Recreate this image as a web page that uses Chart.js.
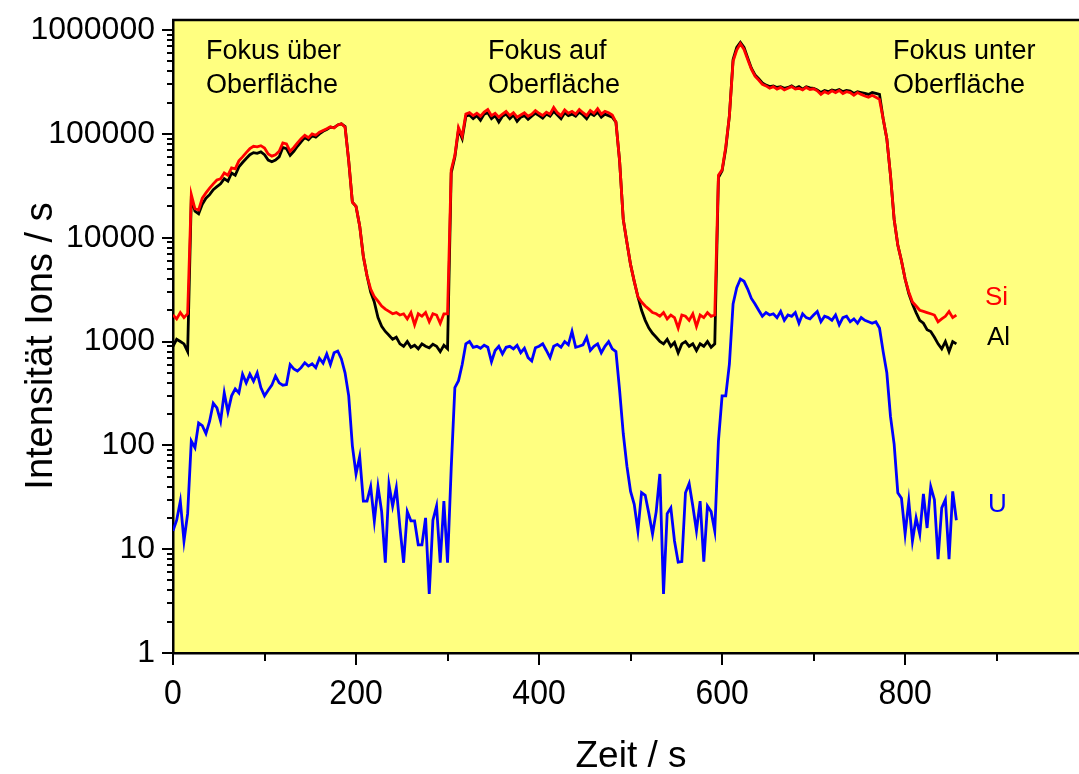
<!DOCTYPE html>
<html><head><meta charset="utf-8">
<script src="https://cdn.jsdelivr.net/npm/chart.js@4.4.0/dist/chart.umd.min.js"></script>
<style>html,body{margin:0;padding:0;background:#fff;}canvas{display:block;}</style>
</head><body>
<canvas id="c" width="1079" height="774"></canvas>
<script>
// time axis (s)
const times = [
0,4,8,12,16,20,24,28,32,36,40,44,48,52,56,60,64,68,72,76,
80,84,88,92,96,100,104,108,112,116,120,124,128,132,136,140,144,148,152,156,
160,164,168,172,176,180,184,188,192,196,200,204,208,212,216,220,224,228,232,236,
240,244,248,252,256,260,264,268,272,276,280,284,288,292,296,300,304,308,312,316,
320,324,328,332,336,340,344,348,352,356,360,364,368,372,376,380,384,388,392,396,
400,404,408,412,416,420,424,428,432,436,440,444,448,452,456,460,464,468,472,476,
480,484,488,492,496,500,504,508,512,516,520,524,528,532,536,540,544,548,552,556,
560,564,568,572,576,580,584,588,592,596,600,604,608,612,616,620,624,628,632,636,
640,644,648,652,656,660,664,668,672,676,680,684,688,692,696,700,704,708,712,716,
720,724,728,732,736,740,744,748,752,756,760,764,768,772,776,780,784,788,792,796,
800,804,808,812,816,820,824,828,832,836,840,844,848,852,856];

const siValues = [
1800,1650,1900,1700,1850,26000,19000,18500,24000,27000,
30000,33000,36000,37000,42000,40000,47000,46000,55000,60000,
66000,72000,76000,75000,77000,73000,64000,61000,63000,68000,
82000,80000,68000,74000,82000,90000,97000,92000,100000,97000,
104000,108000,112000,117000,114000,122000,125000,116000,55000,22000,
20000,13000,6600,4300,3200,2700,2450,2200,2050,1950,
1850,1900,1800,1850,1650,1900,1450,1850,1750,1900,
1550,1850,1800,1500,1850,1850,45000,62000,115000,95000,
155000,160000,150000,158000,148000,162000,172000,150000,158000,145000,
155000,165000,150000,160000,145000,152000,160000,148000,155000,168000,
158000,150000,162000,155000,180000,160000,150000,170000,158000,165000,
155000,172000,160000,150000,168000,158000,175000,155000,165000,160000,
152000,130000,55000,15000,9000,5500,3800,2700,2400,2200,
2050,1900,1850,1750,1900,1650,1800,1700,1350,1800,
1750,1600,1850,1400,1800,1700,1900,1750,1800,40000,
45000,75000,150000,500000,640000,740000,650000,520000,420000,360000,
330000,300000,290000,275000,285000,270000,280000,265000,275000,285000,
270000,275000,265000,280000,268000,272000,260000,240000,255000,245000,
260000,250000,262000,245000,255000,250000,235000,250000,240000,232000,
225000,235000,225000,215000,140000,90000,40000,15000,8500,6000,
4000,3000,2400,2200,2000,1950,1900,1850,1800,1550,
1650,1750,1950,1700,1800];

const alValues = [
900,1050,1000,950,800,24000,18000,17000,21000,24000,
26000,29000,31000,33000,37000,35000,42000,40000,48000,53000,
58000,63000,66000,65000,67000,63000,56000,54000,56000,60000,
74000,72000,62000,68000,76000,84000,92000,88000,96000,93000,
100000,106000,110000,116000,115000,122000,125000,118000,55000,22000,
20000,13000,6600,4300,3000,2400,1700,1400,1250,1150,
1050,1100,950,900,1000,880,920,850,950,900,
870,940,900,800,920,850,42000,60000,110000,90000,
148000,152000,140000,150000,135000,155000,160000,140000,150000,130000,
148000,155000,140000,152000,132000,145000,150000,138000,148000,158000,
150000,142000,155000,148000,165000,152000,140000,160000,150000,155000,
148000,162000,152000,140000,158000,150000,162000,145000,155000,150000,
145000,130000,55000,15000,9000,5500,3800,2700,2000,1600,
1350,1200,1100,1000,950,1050,900,980,780,950,
1000,900,950,820,950,900,1000,880,950,38000,
44000,72000,150000,520000,680000,760000,680000,540000,430000,370000,
340000,310000,295000,285000,290000,280000,285000,275000,280000,290000,
275000,285000,270000,285000,278000,275000,265000,250000,262000,255000,
265000,260000,268000,255000,262000,258000,245000,255000,250000,245000,
240000,250000,245000,240000,140000,90000,40000,15000,8500,6000,
4000,2900,2300,1900,1600,1500,1300,1250,1100,950,
850,1000,800,1000,950];

const uValues = [
15,19,29,12,22,110,95,164,155,130,
171,255,230,171,320,210,300,350,320,485,
400,485,415,500,360,300,340,380,465,400,
380,385,600,545,520,560,625,580,610,560,
690,620,760,600,780,810,680,500,300,99,
53,78,29,29,40,18.7,40,23,7.4,42,
26,39,16,7.4,23,18.7,18.7,11,11,20,
3.7,19,26,7.4,29,7.4,60,360,420,600,
950,1000,880,900,860,920,880,640,820,900,
760,880,900,850,920,780,860,700,650,870,
900,950,820,700,900,940,880,1000,930,1250,
880,900,930,1100,820,900,950,780,900,1000,
850,800,340,130,63,36,27,15,35,33,
22,14,23,53,3.7,22,25,12,7.5,7.6,
35,43,26,15,29,7.6,26,23,15,110,
300,300,610,2300,3300,4000,3800,3200,2600,2300,
2000,1750,1900,1800,1850,1700,1950,1600,1800,1750,
1900,1500,1850,1700,1650,1800,1950,1550,1750,1700,
1600,1800,1450,1700,1750,1550,1650,1500,1700,1600,
1550,1500,1550,1350,800,500,190,103,35,31,
14,29,12,20,14,34,16,40,30,8,
25,30,8,36,19];

const xTickLabels = [0, 200, 400, 600, 800];
const yTickLabels = [1, 10, 100, 1000, 10000, 100000, 1000000];
const seriesNames = ['Si', 'Al', 'U'];
const annotationTexts = [['Fokus über', 'Oberfläche'], ['Fokus auf', 'Oberfläche'], ['Fokus unter', 'Oberfläche']];
const xTitle = 'Zeit / s';
const yTitle = 'Intensität Ions / s';

// ---- styling / layout (not data) ----
const FONT = '"Liberation Sans", Arial, Helvetica, sans-serif';
const seriesColors = ['#ff0000', '#000000', '#0000ff'];
const seriesLabelPos = [[985, 305], [987, 345], [988, 512]];
const annotationPos = [[206, 59], [488, 59], [893, 59]];

const toPts = vals => times.map((t, i) => ({x: t, y: vals[i]}));

const decor = {
  id: 'decor',
  beforeDraw(chart) {
    const {ctx, chartArea: a} = chart;
    ctx.save();
    ctx.fillStyle = '#ffff80';
    ctx.fillRect(a.left, a.top, a.right - a.left, a.bottom - a.top);
    ctx.restore();
  },
  afterDraw(chart) {
    const {ctx, chartArea: a} = chart;
    const xs = chart.scales.x, ys = chart.scales.y;
    ctx.save();
    ctx.strokeStyle = '#000';
    ctx.lineWidth = 2.5;
    ctx.beginPath();
    ctx.moveTo(a.left - 1, a.top);
    ctx.lineTo(a.right, a.top);
    ctx.stroke();
    // tick marks
    ctx.lineWidth = 2;
    ctx.beginPath();
    for (let v = 0; v <= 900; v += 100) {
      const px = Math.round(xs.getPixelForValue(v));
      const len = (v % 200 === 0) ? 12 : 8;
      ctx.moveTo(px, a.bottom);
      ctx.lineTo(px, a.bottom + len);
    }
    for (let d = 0; d <= 6; d++) {
      for (let m = 1; m <= 9; m++) {
        const v = m * Math.pow(10, d);
        if (v > ys.max) break;
        const py = Math.round(ys.getPixelForValue(v));
        const len = (m === 1) ? 11 : 6;
        ctx.moveTo(a.left, py);
        ctx.lineTo(a.left - len, py);
      }
    }
    ctx.stroke();
    // x tick labels (slightly tall glyphs like the reference)
    ctx.fillStyle = '#000';
    ctx.textAlign = 'center';
    ctx.textBaseline = 'alphabetic';
    ctx.font = '32px ' + FONT;
    xTickLabels.forEach(v => {
      ctx.save();
      ctx.translate(xs.getPixelForValue(v), 704);
      ctx.scale(1, 1.12);
      ctx.fillText(String(v), 0, 0);
      ctx.restore();
    });
    // annotations
    ctx.textAlign = 'left';
    ctx.font = '27px ' + FONT;
    annotationTexts.forEach((lines, i) => {
      const [x, y] = annotationPos[i];
      lines.forEach((ln, j) => ctx.fillText(ln, x, y + j * 34));
    });
    ctx.font = '26px ' + FONT;
    seriesNames.forEach((n, i) => {
      ctx.fillStyle = seriesColors[i];
      ctx.fillText(n, seriesLabelPos[i][0], seriesLabelPos[i][1]);
    });
    ctx.fillStyle = '#000';
    ctx.font = '37px ' + FONT;
    ctx.textAlign = 'center';
    ctx.fillText(xTitle, 631, 767);
    ctx.translate(52, 346);
    ctx.rotate(-Math.PI / 2);
    ctx.font = '38px ' + FONT;
    ctx.fillText(yTitle, 0, 0);
    ctx.restore();
  }
};

new Chart(document.getElementById('c'), {
  type: 'line',
  data: {
    datasets: [
      {label: seriesNames[0], data: toPts(siValues), borderColor: seriesColors[0]},
      {label: seriesNames[1], data: toPts(alValues), borderColor: seriesColors[1]},
      {label: seriesNames[2], data: toPts(uValues), borderColor: seriesColors[2]}
    ].map(d => Object.assign(d, {borderWidth: 2.8, pointRadius: 0, tension: 0, fill: false}))
  },
  options: {
    responsive: false,
    animation: false,
    events: [],
    plugins: {legend: {display: false}, tooltip: {enabled: false}},
    layout: {padding: {top: 20, right: 0, bottom: 0, left: 0}},
    scales: {
      x: {
        type: 'linear', min: 0, max: 990,
        afterFit(s) { s.height = 121; s.paddingLeft = 0; s.paddingRight = 0; },
        grid: {drawOnChartArea: false, drawTicks: false},
        border: {display: true, color: '#000', width: 2.5},
        ticks: {
          stepSize: 100, autoSkip: false, maxRotation: 0,
          padding: 20, color: '#000', font: {family: FONT, size: 32},
          callback: () => ''
        }
      },
      y: {
        type: 'logarithmic', min: 1, max: 1.25e6,
        afterFit(s) { s.width = 173; s.paddingTop = 0; s.paddingBottom = 0; },
        grid: {drawOnChartArea: false, drawTicks: false},
        border: {display: true, color: '#000', width: 2.5},
        ticks: {
          autoSkip: false, padding: 18, color: '#000', font: {family: FONT, size: 32},
          callback: v => {
            const hit = yTickLabels.find(t => Math.abs(t - v) < 1e-6 * t);
            return hit !== undefined ? String(hit) : '';
          }
        }
      }
    }
  },
  plugins: [decor]
});
</script>
</body></html>
